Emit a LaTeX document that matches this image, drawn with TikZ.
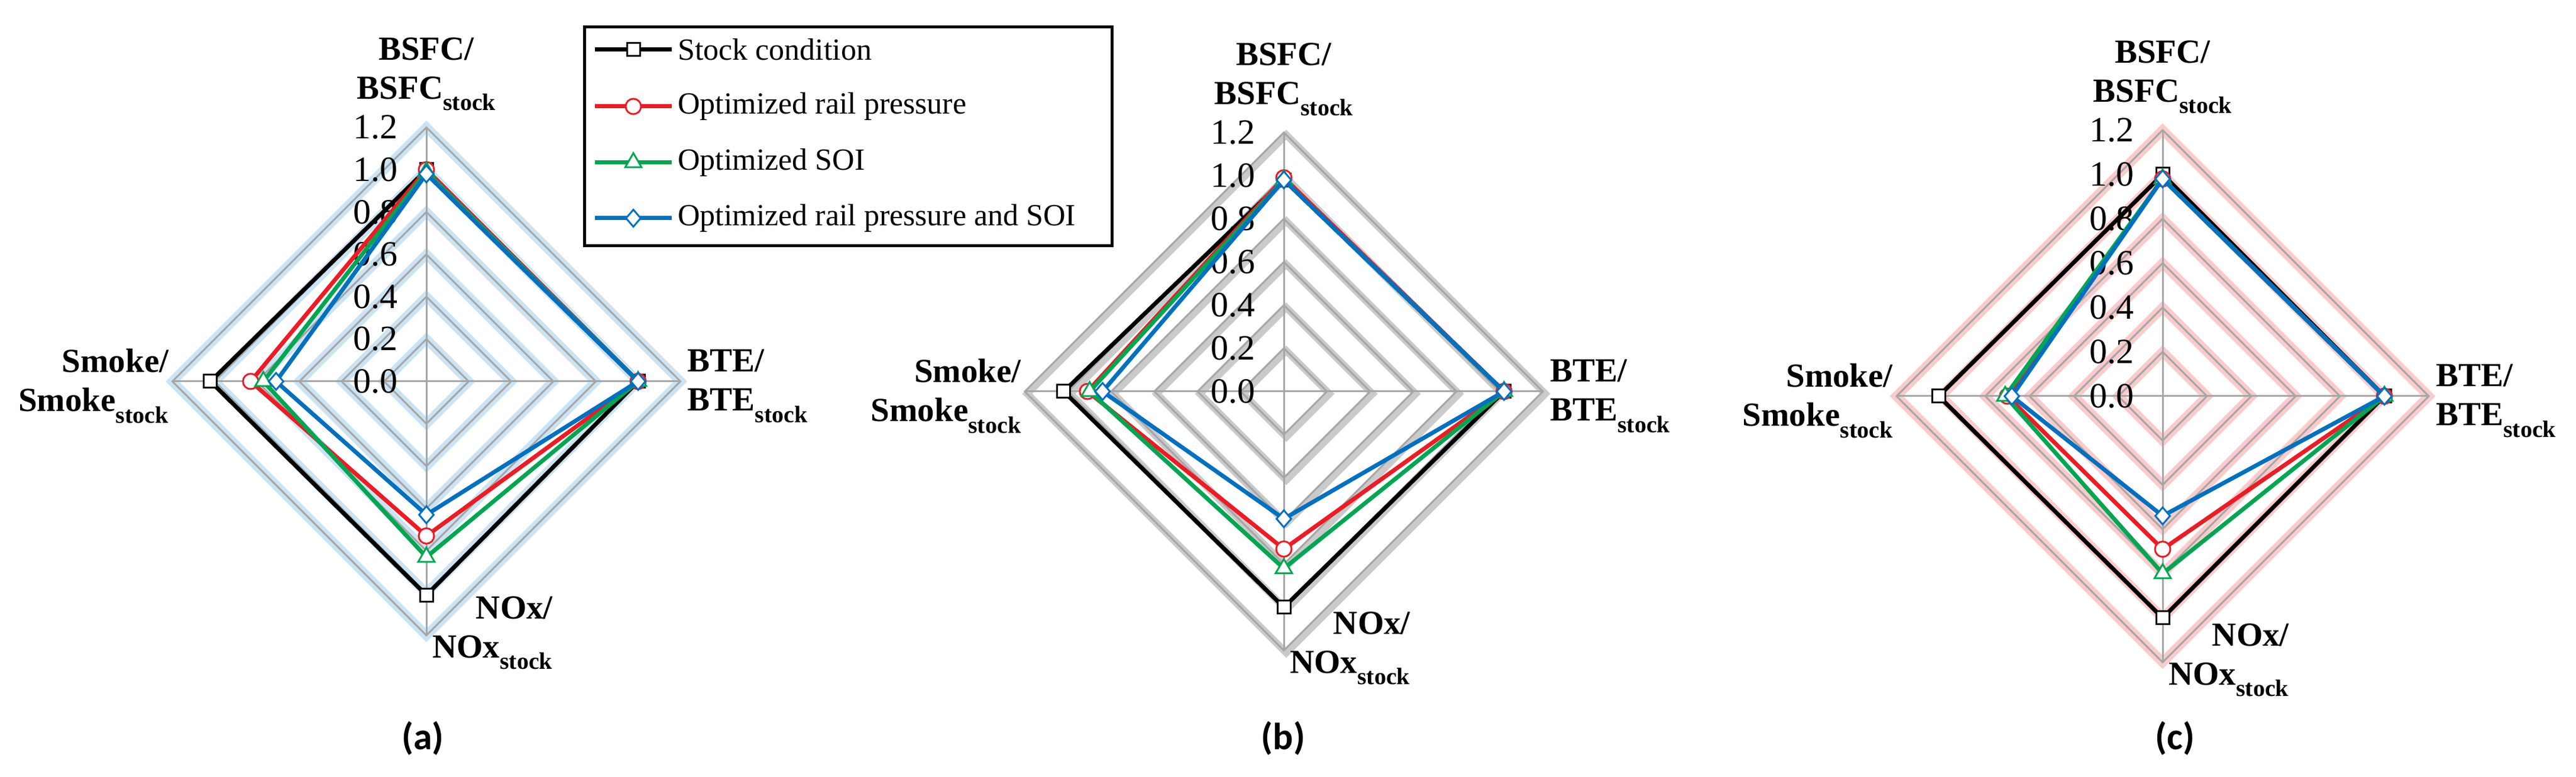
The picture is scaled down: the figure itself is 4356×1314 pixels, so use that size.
\documentclass[tikz,border=0pt]{standalone}
\usepackage{fontspec}
\setmainfont{Liberation Serif}
\newfontfamily\calib{Carlito}
\usetikzlibrary{shapes.geometric}
\definecolor{sred}{RGB}{237,28,36}
\definecolor{sgreen}{RGB}{0,166,81}
\definecolor{sblue}{RGB}{0,112,192}
\definecolor{gblue}{RGB}{190,220,240}
\definecolor{gpink}{RGB}{250,190,190}
\tikzset{
 x=1pt,y=1pt,
 ring/.style={draw=gray!70,line width=3pt},
 ser/.style={line width=7pt,line join=miter},
 mk/.style={draw,fill=white,line width=3pt,inner sep=0pt},
 msq/.style={mk,rectangle,minimum size=22pt},
 mci/.style={mk,circle,minimum size=26pt},
 mtr/.style={mk,isosceles triangle,shape border rotate=90,isosceles triangle apex angle=60,minimum size=24pt},
 mdi/.style={mk,diamond,minimum width=26pt,minimum height=30pt},
 tick/.style={anchor=east,inner sep=0pt,font=\fontsize{60}{60}\selectfont},
 cat/.style={font=\fontsize{57}{66}\selectfont\bfseries,inner sep=0pt},
 leg/.style={anchor=west,inner sep=0pt,font=\fontsize{52}{52}\selectfont},
 plab/.style={font=\fontsize{64}{64}\selectfont\calib\bfseries}
}
\newcommand\st{\textsubscript{\fontsize{40}{40}\selectfont stock}}
% grid: cx cy u glowstyle
\newcommand\radargrid[4]{%
 \begin{scope}[shift={(#1,#2)}]
 \foreach \k in {0.2,0.4,0.6,0.8,1.0,1.2}{
  \draw[#4] (0,\k*#3)--(\k*#3,0)--(0,-\k*#3)--(-\k*#3,0)--cycle;}
 \foreach \k in {0.2,0.4,0.6,0.8,1.0,1.2}{
  \draw[ring] (0,\k*#3)--(\k*#3,0)--(0,-\k*#3)--(-\k*#3,0)--cycle;}
 \draw[ring] (0,1.2*#3)--(0,-1.2*#3);
 \draw[ring] (-1.2*#3,0)--(1.2*#3,0);
 \foreach \v/\t in {0/0.0,0.2/0.2,0.4/0.4,0.6/0.6,0.8/0.8,1.0/1.0,1.2/1.2}
  \node[tick] at (-48,\v*#3) {\t};
 \node[cat,anchor=south,align=center] at (0,1.2*#3+28) {BSFC/\\BSFC\st};
 \node[cat,anchor=west,align=left] at (1.2*#3+12,-8) {BTE/\\BTE\st};
 \node[cat,anchor=east,align=right] at (-1.2*#3-6,-8) {Smoke/\\Smoke\st};
 \node[cat,align=right] at (112,-1.2*#3+4) {NOx/\\NOx\st};
 \end{scope}}
% series: cx cy u color marker t r b l
\newcommand\series[9]{%
 \begin{scope}[shift={(#1,#2)}]
 \draw[ser,#4] (0,#6*#3)--(#7*#3,0)--(0,-#8*#3)--(-#9*#3,0)--cycle;
 \foreach \p in {(0,#6*#3),(#7*#3,0),(0,-#8*#3),(-#9*#3,0)}
  \node[#5,draw=#4] at \p {};
 \end{scope}}
\begin{document}
\begin{tikzpicture}
\useasboundingbox (0,0) rectangle (4356,1314);
% panel a
\radargrid{721}{669}{358}{gblue,line width=16pt,opacity=.8}
\series{721}{669}{358}{black}{msq}{1.0}{1.0}{1.01}{1.02}
\series{721}{669}{358}{sred}{mci}{1.0}{1.0}{0.73}{0.83}
\series{721}{669}{358}{sgreen}{mtr}{0.99}{1.0}{0.83}{0.77}
\series{721}{669}{358}{sblue}{mdi}{0.98}{1.0}{0.63}{0.71}
\node[plab] (la) at (715,65) {(a)};
% panel b
\radargrid{2171}{652}{365}{black!35,line width=12pt,opacity=.6,shift={(4,-4)}}
\series{2171}{652}{365}{black}{msq}{0.98}{1.02}{1.0}{1.02}
\series{2171}{652}{365}{sred}{mci}{0.99}{1.02}{0.73}{0.91}
\series{2171}{652}{365}{sgreen}{mtr}{0.98}{1.02}{0.82}{0.90}
\series{2171}{652}{365}{sblue}{mdi}{0.98}{1.02}{0.59}{0.84}
\node[plab] (lb) at (2170,65) {(b)};
% panel c
\radargrid{3657}{644}{375}{gpink,line width=16pt,opacity=.8}
\series{3657}{644}{375}{black}{msq}{1.0}{1.0}{1.0}{1.01}
\series{3657}{644}{375}{sred}{mci}{0.98}{1.0}{0.69}{0.70}
\series{3657}{644}{375}{sgreen}{mtr}{0.98}{1.0}{0.80}{0.71}
\series{3657}{644}{375}{sblue}{mdi}{0.98}{1.0}{0.54}{0.68}
\node[plab] (lc) at (3678,65) {(c)};
% legend
\draw[line width=5pt,fill=white] (988,1268) rectangle (1880,898);
\foreach \y/\c/\m/\t [count=\i] in {1230/black/msq/Stock condition,1134/sred/mci/Optimized rail pressure,1039/sgreen/mtr/Optimized SOI,945/sblue/mdi/Optimized rail pressure and SOI}{
 \coordinate (l\i a) at (1006,\y);
 \coordinate (l\i b) at (1136,\y);
 \draw[ser,\c] (l\i a)--(l\i b);
 \node[\m,draw=\c] at (1071,\y) {};
 \node[leg] (t\i) at (1146,\y) {\t};
}
\end{tikzpicture}
\end{document}
